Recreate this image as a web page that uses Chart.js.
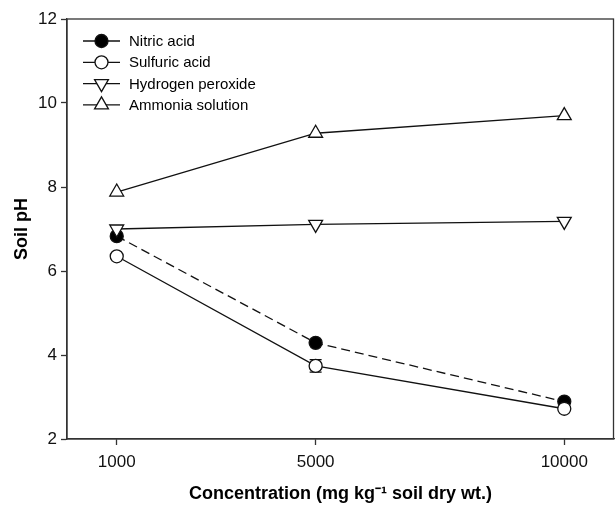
<!DOCTYPE html>
<html>
<head>
<meta charset="utf-8">
<script src="https://cdn.jsdelivr.net/npm/chart.js@4"></script>
<style>
  body { margin: 0; background: #fff; }
  #wrap { width: 615px; height: 506px; }
</style>
</head>
<body>
<div id="wrap"><canvas id="myChart" width="615" height="506"></canvas></div>
<script>
/* globals Chart:false */

// concentration, mg per kg soil dry wt.
const concentrations = [1000, 5000, 10000];
const xTicks = [1000, 5000, 10000];
const yTicks = [2, 4, 6, 8, 10, 12];

const nitricAcid = [6.83, 4.29, 2.89];
const sulfuricAcid = [6.35, 3.74, 2.72];
const sulfuricErr = [0, 0.15, 0];
const hydrogenPeroxide = [7.0, 7.11, 7.18];
const ammoniaSolution = [7.88, 9.28, 9.70];

const seriesNames = ['Nitric acid', 'Sulfuric acid', 'Hydrogen peroxide', 'Ammonia solution'];

const FONT = "'Liberation Sans', Arial, sans-serif";
const INK = '#111';

function pts(values) {
  return values.map((v, i) => ({ x: concentrations[i], y: v }));
}

// marker settings per series (legend reuses them)
const markers = [
  { style: 'circle', fill: '#000', radius: 6.5, rotation: 0, dash: [9, 5] },
  { style: 'circle', fill: '#fff', radius: 6.5, rotation: 0, dash: [] },
  { style: 'triangle', fill: '#fff', radius: 8, rotation: 180, dash: [] },
  { style: 'triangle', fill: '#fff', radius: 8, rotation: 0, dash: [] }
];

const seriesData = [nitricAcid, sulfuricAcid, hydrogenPeroxide, ammoniaSolution];
const drawOrder = [4, 1, 2, 3];

const datasets = seriesData.map(function (vals, i) {
  const m = markers[i];
  return {
    label: seriesNames[i],
    data: pts(vals),
    borderColor: INK,
    borderWidth: 1.3,
    borderDash: m.dash,
    pointStyle: m.style,
    pointRotation: m.rotation,
    pointRadius: m.radius,
    pointBackgroundColor: m.fill,
    pointBorderColor: INK,
    pointBorderWidth: 1.3,
    tension: 0,
    order: drawOrder[i]
  };
});

function drawMarker(ctx, m, x, y) {
  ctx.save();
  ctx.setLineDash([]);
  ctx.fillStyle = m.fill;
  ctx.strokeStyle = INK;
  ctx.lineWidth = 1.3;
  ctx.beginPath();
  if (m.style === 'circle') {
    ctx.arc(x, y, m.radius, 0, Math.PI * 2);
  } else {
    let rad = m.rotation * Math.PI / 180;
    const r = m.radius;
    ctx.moveTo(x + Math.sin(rad) * r, y - Math.cos(rad) * r);
    rad += 2 * Math.PI / 3;
    ctx.lineTo(x + Math.sin(rad) * r, y - Math.cos(rad) * r);
    rad += 2 * Math.PI / 3;
    ctx.lineTo(x + Math.sin(rad) * r, y - Math.cos(rad) * r);
    ctx.closePath();
  }
  ctx.fill();
  ctx.stroke();
  ctx.restore();
}

const framePlugin = {
  id: 'frame',
  beforeDatasetsDraw(chart) {
    // error bars for sulfuric acid
    const ctx = chart.ctx;
    const xs = chart.scales.x, ys = chart.scales.y;
    ctx.save();
    ctx.strokeStyle = INK;
    ctx.lineWidth = 1.3;
    sulfuricAcid.forEach(function (v, i) {
      const e = sulfuricErr[i];
      if (!e) return;
      const px = xs.getPixelForValue(concentrations[i]);
      const top = ys.getPixelForValue(v + e);
      const bot = ys.getPixelForValue(v - e);
      ctx.beginPath();
      ctx.moveTo(px, top); ctx.lineTo(px, bot);
      ctx.moveTo(px - 6, top); ctx.lineTo(px + 6, top);
      ctx.moveTo(px - 6, bot); ctx.lineTo(px + 6, bot);
      ctx.stroke();
    });
    ctx.restore();
  },
  afterDraw(chart) {
    const ctx = chart.ctx;
    const a = chart.chartArea;
    ctx.save();
    ctx.strokeStyle = '#333';
    ctx.lineWidth = 1.3;
    ctx.strokeRect(a.left, a.top, a.right - a.left - 0.5, a.bottom - a.top);

    // legend in upper-left corner
    ctx.font = '15px ' + FONT;
    ctx.textBaseline = 'middle';
    seriesNames.forEach(function (name, i) {
      const y = a.top + 22 + i * 21.3;
      ctx.strokeStyle = INK;
      ctx.lineWidth = 1.3;
      ctx.beginPath();
      ctx.moveTo(a.left + 16, y);
      ctx.lineTo(a.left + 53, y);
      ctx.stroke();
      drawMarker(ctx, markers[i], a.left + 34.5, y);
      ctx.fillStyle = '#000';
      ctx.fillText(name, a.left + 62, y + 1);
    });
    ctx.restore();
  }
};

const ctx = document.getElementById('myChart');
const myChart = new Chart(ctx, {
  type: 'line',
  data: { datasets: datasets },
  plugins: [framePlugin],
  options: {
    responsive: false,
    animation: false,
    layout: { autoPadding: false, padding: { top: 19, right: 1, left: 0, bottom: 0 } },
    plugins: {
      legend: { display: false },
      tooltip: { enabled: false }
    },
    scales: {
      x: {
        type: 'linear',
        min: 0,
        max: 11000,
        afterBuildTicks: function (scale) {
          scale.ticks = xTicks.map(v => ({ value: v }));
        },
        afterFit: function (scale) {
          scale.height = 67;
          scale.paddingLeft = 0;
          scale.paddingRight = 0;
        },
        ticks: {
          color: '#111',
          font: { family: FONT, size: 17 },
          padding: 7,
          maxRotation: 0,
          callback: v => String(v)
        },
        grid: { drawOnChartArea: false, drawTicks: true, tickLength: 6, tickColor: '#333', tickWidth: 1.3 },
        border: { display: true, color: '#333', width: 1.3 },
        title: {
          display: true,
          text: 'Concentration (mg kg\u207B\u00B9 soil dry wt.)',
          color: '#000',
          font: { family: FONT, size: 18, weight: 'bold' },
          padding: { top: 0, bottom: 1 }
        }
      },
      y: {
        min: 2,
        max: 12,
        afterBuildTicks: function (scale) {
          scale.ticks = yTicks.map(v => ({ value: v }));
        },
        afterFit: function (scale) { scale.width = 67; },
        ticks: {
          color: '#111',
          font: { family: FONT, size: 17 },
          padding: 4
        },
        grid: { drawOnChartArea: false, drawTicks: true, tickLength: 6, tickColor: '#333', tickWidth: 1.3 },
        border: { display: true, color: '#333', width: 1.3 },
        title: {
          display: true,
          text: 'Soil pH',
          color: '#000',
          font: { family: FONT, size: 18, weight: 'bold' },
          padding: { top: 11, bottom: 0 }
        }
      }
    }
  }
});
</script>
</body>
</html>
